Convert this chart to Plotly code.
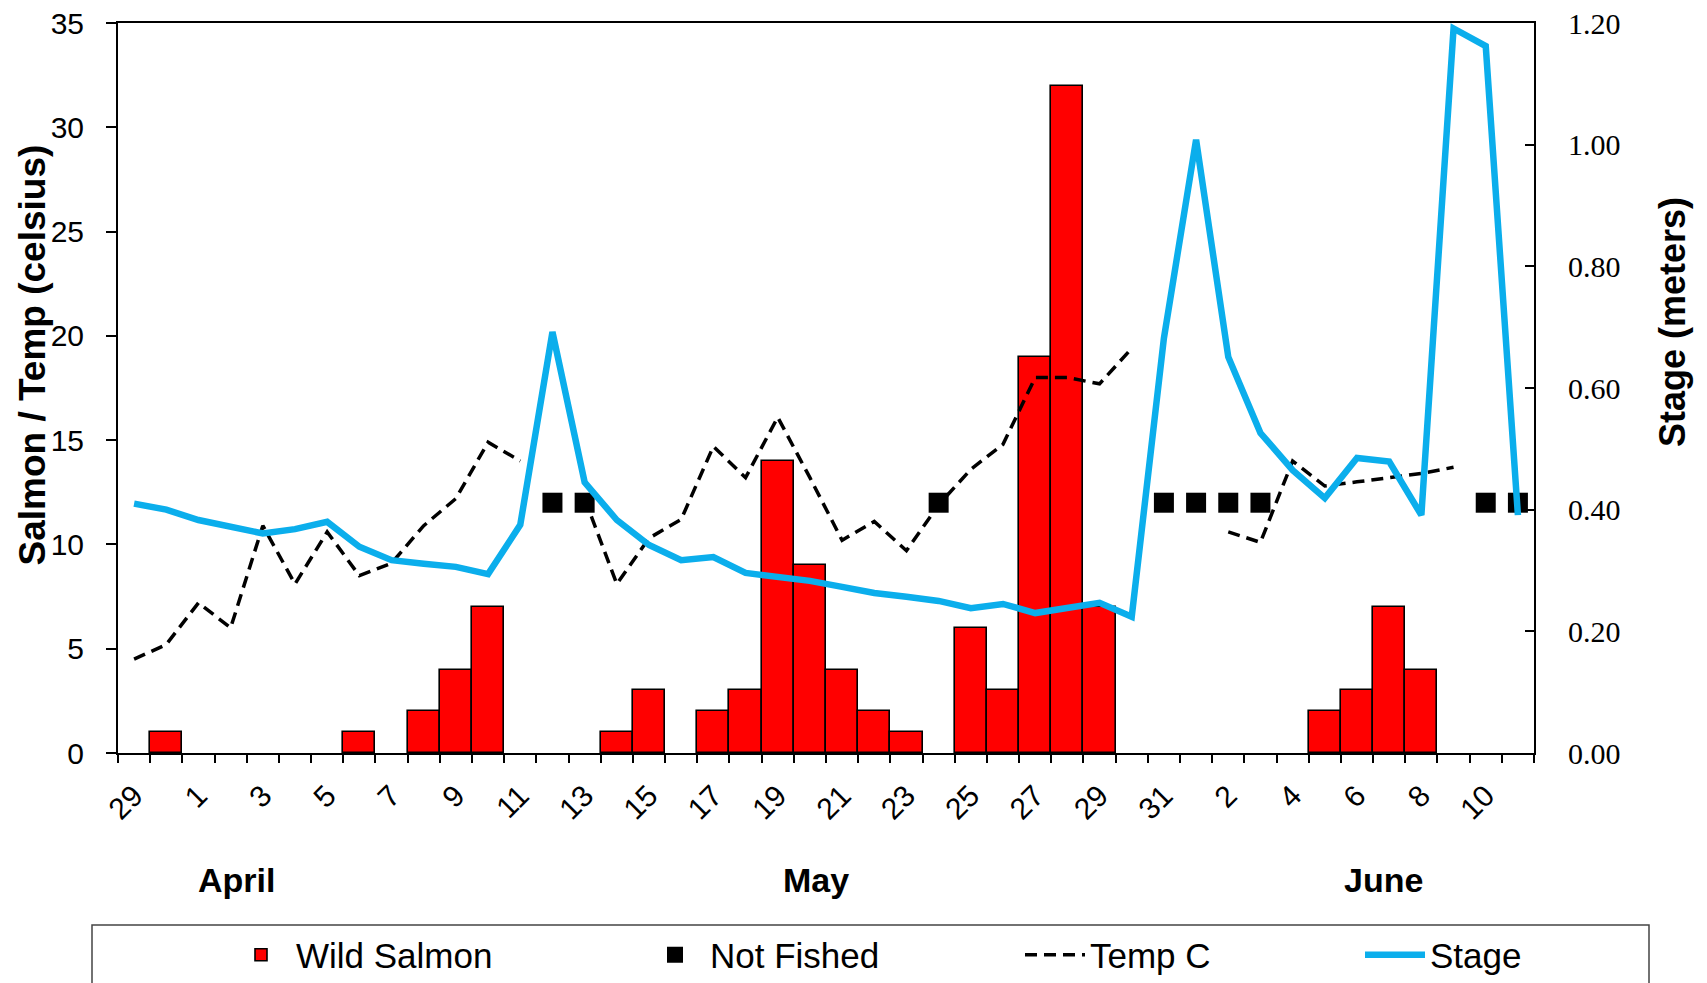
import plotly.graph_objects as go

# Daily categories, 29 April to 11 June
dates = [
    "Apr 29", "Apr 30",
    "May 1", "May 2", "May 3", "May 4", "May 5", "May 6", "May 7", "May 8",
    "May 9", "May 10", "May 11", "May 12", "May 13", "May 14", "May 15",
    "May 16", "May 17", "May 18", "May 19", "May 20", "May 21", "May 22",
    "May 23", "May 24", "May 25", "May 26", "May 27", "May 28", "May 29",
    "May 30", "May 31",
    "Jun 1", "Jun 2", "Jun 3", "Jun 4", "Jun 5", "Jun 6", "Jun 7", "Jun 8",
    "Jun 9", "Jun 10", "Jun 11",
]

# Day numbers shown under every other category
day_ticks = [
    "29", "", "1", "", "3", "", "5", "", "7", "", "9", "", "11", "", "13", "",
    "15", "", "17", "", "19", "", "21", "", "23", "", "25", "", "27", "",
    "29", "", "31", "", "2", "", "4", "", "6", "", "8", "", "10", "",
]

# Wild salmon counted per day (None = trap not fished)
wild_salmon = [
    0, 1,
    0, 0, 0, 0, 0, 1, 0, 2, 4, 7, 0, None, None, 1, 3, 0, 2, 3, 14, 9, 4, 2,
    1, None, 6, 3, 19, 32, 7, 0, None,
    None, None, None, 0, 2, 3, 7, 4, 0, None, None,
]

# Water temperature, degrees C
temp_c = [
    4.5, 5.2,
    7.2, 6.0, 10.9, 8.1, 10.6, 8.5, 9.1, 10.9, 12.2, 14.9, 14.0, None, 12.2,
    8.1, 10.3, 11.2, 14.7, 13.2, 16.1, 13.2, 10.2, 11.1, 9.7, 11.9, 13.6,
    14.8, 18.0, 18.0, 17.7, 19.4, None,
    None, 10.6, 10.1, 14.0, 12.8, 13.0, 13.2, 13.4, 13.7, None, None,
]

# River stage, metres
stage_m = [
    0.41, 0.40,
    0.383, 0.371, 0.361, 0.368, 0.380, 0.339, 0.317, 0.311, 0.306, 0.294,
    0.375, 0.692, 0.445, 0.383, 0.342, 0.317, 0.322, 0.296, 0.290, 0.283,
    0.273, 0.263, 0.257, 0.250, 0.238, 0.245, 0.230, 0.238, 0.247, 0.224,
    0.682,
    1.008, 0.651, 0.526, 0.465, 0.419, 0.485, 0.479, 0.391, 1.191, 1.162,
    0.391,
]

# Days the trap was not fished, drawn at a fixed height on the left scale
not_fished = [
    None, None,
    None, None, None, None, None, None, None, None, None, None, None, 12, 12,
    None, None, None, None, None, None, None, None, None, None, 12, None,
    None, None, None, None, None, 12,
    12, 12, 12, None, None, None, None, None, None, 12, 12, 12,
]

months = ["April", "May", "June"]
month_pos = [0.084, 0.493, 0.894]

SANS = "Liberation Sans, Arial, sans-serif"
SERIF = "Liberation Serif, Times New Roman, serif"
STAGE_BLUE = "#0BAEEC"

# zero-catch days carry no bar outline
salmon_bars = [v if v else None for v in wild_salmon]

fig = go.Figure()

fig.add_trace(go.Bar(
    x=dates, y=salmon_bars, name="Wild Salmon",
    marker=dict(color="#FF0000", line=dict(color="black", width=1.6)),
    legend="legend",
))

fig.add_trace(go.Scatter(
    x=dates, y=not_fished, name="Not Fished", mode="markers",
    marker=dict(symbol="square", color="black", size=20),
    legend="legend2",
))

fig.add_trace(go.Scatter(
    x=dates, y=temp_c, name="Temp C", mode="lines",
    line=dict(color="black", width=3.5, dash="12px,7px"),
    connectgaps=False,
    legend="legend3",
))

fig.add_trace(go.Scatter(
    x=dates, y=stage_m, name="Stage", mode="lines", yaxis="y2",
    line=dict(color=STAGE_BLUE, width=6.5),
    legend="legend4",
))

PLOT_L, PLOT_R, PLOT_T, PLOT_B = 118, 1534, 23, 753
PW, PH = PLOT_R - PLOT_L, PLOT_B - PLOT_T


def px_x(px):
    return (px - PLOT_L) / PW


def px_y(py):
    return (PLOT_B - py) / PH


legend_common = dict(
    orientation="h", xanchor="left", yanchor="middle",
    font=dict(family=SANS, size=35, color="black"),
    bgcolor="rgba(0,0,0,0)", borderwidth=0, itemwidth=60,
)
legend_text_x = [298, 712, 1092, 1432]
legend_layouts = {}
for i, key in enumerate(["legend", "legend2", "legend3", "legend4"]):
    legend_layouts[key] = dict(
        legend_common, x=px_x(legend_text_x[i] - 72), y=px_y(955))

annotations = []
for name, xp in zip(months, month_pos):
    annotations.append(dict(
        text=name, xref="paper", yref="paper", x=xp, y=px_y(880),
        xanchor="center", yanchor="middle", showarrow=False,
        font=dict(family=SANS, size=34, color="black", weight="bold"),
    ))
annotations.append(dict(
    text="Salmon / Temp (celsius)", xref="paper", yref="paper",
    x=px_x(31.5), y=px_y(355), textangle=-90, showarrow=False,
    xanchor="center", yanchor="middle",
    font=dict(family=SANS, size=37, color="black", weight="bold"),
))
annotations.append(dict(
    text="Stage (meters)", xref="paper", yref="paper",
    x=px_x(1672), y=px_y(322), textangle=-90, showarrow=False,
    xanchor="center", yanchor="middle",
    font=dict(family=SANS, size=36, color="black", weight="bold"),
))

fig.update_layout(
    width=1707, height=983,
    margin=dict(l=PLOT_L, r=1707 - PLOT_R, t=PLOT_T, b=983 - PLOT_B,
                autoexpand=False),
    paper_bgcolor="white", plot_bgcolor="white",
    bargap=0,
    showlegend=True,
    annotations=annotations,
    shapes=[dict(
        type="rect", xref="paper", yref="paper",
        x0=px_x(92), x1=px_x(1649), y0=px_y(925), y1=px_y(995),
        line=dict(color="#444444", width=1.5), fillcolor="rgba(0,0,0,0)",
        layer="above",
    )],
    xaxis=dict(
        type="category", categoryorder="array", categoryarray=dates,
        range=[-0.5, len(dates) - 0.5], autorange=False,
        tickmode="array", tickvals=dates, ticktext=day_ticks,
        tickangle=-45, ticks="outside", tickson="boundaries", ticklen=8,
        tickcolor="black", tickwidth=1.5,
        showline=True, linecolor="black", linewidth=2, mirror=True,
        showgrid=False, zeroline=False,
        tickfont=dict(family=SANS, size=30, color="black"),
        ticklabelstandoff=11,
    ),
    yaxis=dict(
        range=[0, 35], dtick=5, ticks="outside", ticklen=10,
        tickcolor="black", tickwidth=1.5,
        showline=True, linecolor="black", linewidth=2,
        showgrid=False, zeroline=False,
        tickfont=dict(family=SANS, size=30, color="black"),
        ticklabelstandoff=16,
    ),
    yaxis2=dict(
        overlaying="y", side="right", range=[0, 1.2], dtick=0.2,
        tickformat=".2f", ticks="inside", ticklen=9,
        tickcolor="black", tickwidth=1.5,
        showline=True, linecolor="black", linewidth=2,
        showgrid=False, zeroline=False,
        tickfont=dict(family=SERIF, size=30, color="black"),
        ticklabelstandoff=26,
    ),
    **legend_layouts,
)

fig.write_html("out.html")
